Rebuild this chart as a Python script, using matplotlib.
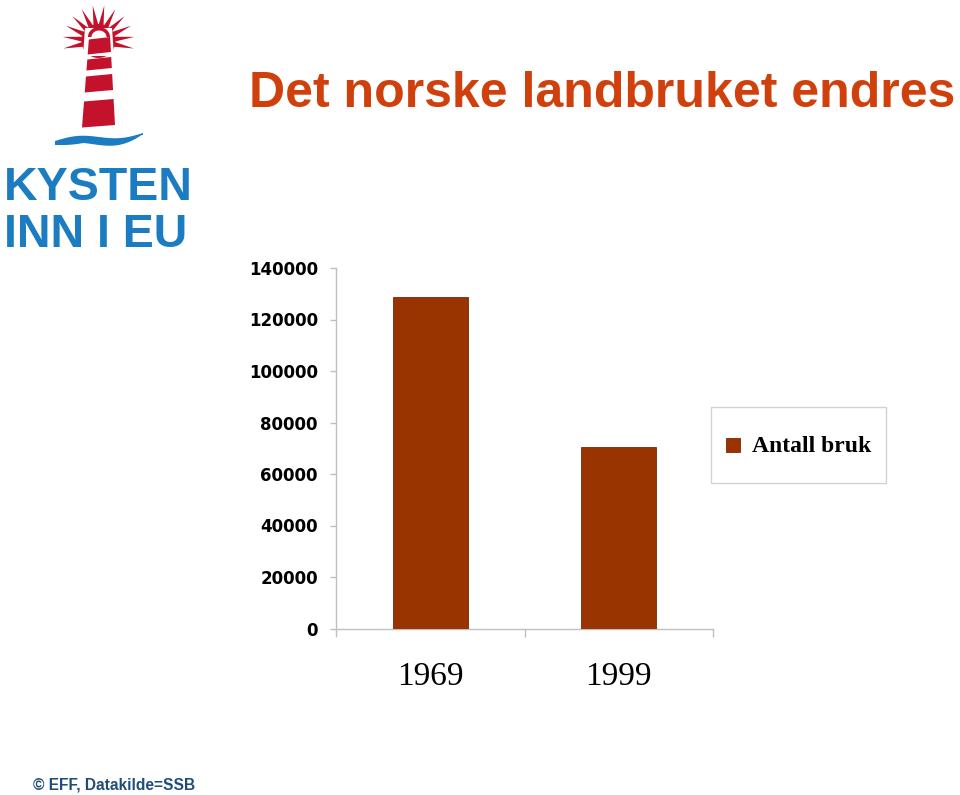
import matplotlib
matplotlib.use("Agg")
import matplotlib.pyplot as plt
from matplotlib.patches import Polygon, Rectangle
from matplotlib.legend_handler import HandlerPatch, update_from_first_child
from matplotlib.container import BarContainer
from matplotlib.ticker import FuncFormatter
import numpy as np

# ---- data ----
categories = ["1969", "1999"]
antall_bruk = [128600, 70400]
series_label = "Antall bruk"
y_ticks = [0, 20000, 40000, 60000, 80000, 100000, 120000, 140000]
title = "Det norske landbruket endres"
footer = "\u00a9 EFF, Datakilde=SSB"

BAR = "#993300"
GRAY = "#c0c0c0"
TITLE_C = "#d0400c"
LOGO_BLUE = "#1c7cc2"
LOGO_RED = "#c4122c"
FOOT_C = "#1f4d7a"

W, H = 960, 795
fig = plt.figure(figsize=(W / 100, H / 100), dpi=100)

# ---- overlay axes in pixel coordinates for logo and texts ----
ov = fig.add_axes([0, 0, 1, 1])
ov.set_xlim(0, W)
ov.set_ylim(H, 0)
ov.axis("off")

# sunburst rays
cx, cy = 98.5, 41
r_in, r_out = 16, 36
angles = np.deg2rad(np.linspace(-12, 192, 12))
for a in angles:
    da = np.deg2rad(9)
    pts = [(cx + r_in * np.cos(a - da), cy - r_in * np.sin(a - da)),
           (cx + r_out * np.cos(a), cy - r_out * np.sin(a)),
           (cx + r_in * np.cos(a + da), cy - r_in * np.sin(a + da))]
    ov.add_patch(Polygon(pts, closed=True, color=LOGO_RED, lw=0))
t = np.linspace(0, 2 * np.pi, 40)
ov.add_patch(Polygon([(cx + 17 * np.cos(tt), cy - 17 * np.sin(tt)) for tt in t], closed=True,
                     color=LOGO_RED, lw=0))
ov.add_patch(Polygon([(85, 28), (112, 28), (114, 56), (83, 56)], closed=True, color="white", lw=0))
t = np.linspace(0, np.pi, 30)
ov.add_patch(Polygon([(99 + 11 * np.cos(tt), 37 - 10 * np.sin(tt)) for tt in t], closed=True,
                     color=LOGO_RED, lw=0))
ov.add_patch(Polygon([(99 + 7.5 * np.cos(tt), 37 - 6.5 * np.sin(tt)) for tt in t], closed=True,
                     color="white", lw=0))


def tower_x(y):
    f = (y - 36) / (126 - 36)
    return 89 + (82 - 89) * f, 110 + (115 - 110) * f


for (y0, y1) in [(38, 53), (58, 69), (75, 91), (100, 126)]:
    l0, r0 = tower_x(y0)
    l1, r1 = tower_x(y1)
    ov.add_patch(Polygon([(l0, y0 + 1.5), (r0, y0 - 1), (r1, y1 - 1), (l1, y1 + 1.5)],
                         closed=True, color=LOGO_RED, lw=0))

xs = np.linspace(55, 143, 50)
u = (xs - 55) / 88
top = 141 - 8 * u - 3 * np.sin(u * np.pi * 2)
bot = 145 - 10 * u + 2 * np.sin(u * np.pi * 2) * (1 - u)
bot = np.maximum(bot, top + 8 * np.sin(u * np.pi) ** 0.6)
ov.add_patch(Polygon(list(zip(xs, top)) + list(zip(xs[::-1], bot[::-1])), closed=True,
                     color=LOGO_BLUE, lw=0))

ov.text(4, 200, "KYSTEN", fontsize=33.5, fontweight="bold", color=LOGO_BLUE,
        family="Liberation Sans", ha="left", va="baseline")
ov.text(4, 247, "INN I EU", fontsize=33.5, fontweight="bold", color=LOGO_BLUE,
        family="Liberation Sans", ha="left", va="baseline")

ov.text(955, 107, title, fontsize=36, fontweight="bold", color=TITLE_C,
        family="Liberation Sans", ha="right", va="baseline")
ov.text(33, 789, footer, fontsize=11.2, fontweight="bold", color=FOOT_C,
        family="Liberation Sans", ha="left", va="baseline")

# ---- chart axes ----
left, right, bottom, top_ = 336, 713, 628.5, 268
ax = fig.add_axes([left / W, 1 - bottom / H, (right - left) / W, (bottom - top_) / H])
ax.patch.set_alpha(0)
x = np.arange(len(categories))
ax.bar(x, antall_bruk, width=0.4, color=BAR, edgecolor="#7a2900", linewidth=0.6,
       label=series_label, zorder=3)
ax.set_xlim(-0.5, len(categories) - 0.5)
ax.set_ylim(0, 140000)
ax.set_yticks(y_ticks)
ax.yaxis.set_major_formatter(FuncFormatter(lambda v, p: f"{int(v)}"))
ax.set_xticks(x)
ax.set_xticklabels(categories, family="Liberation Serif", fontsize=24)
ax.set_xticks(np.arange(-0.5, len(categories)), minor=True)
ax.tick_params(axis="x", which="major", length=0, pad=24)
ax.tick_params(axis="x", which="minor", length=6, color=GRAY, width=1)
ax.tick_params(axis="y", length=4.5, color=GRAY, width=1, pad=8.5)
for lab in ax.get_yticklabels():
    lab.set_fontweight("bold")
    lab.set_fontsize(12)
    lab.set_family("DejaVu Sans")
for s in ["top", "right"]:
    ax.spines[s].set_visible(False)
for s in ["left", "bottom"]:
    ax.spines[s].set_color(GRAY)
    ax.spines[s].set_linewidth(1)


def square_patch(legend, orig_handle, xdescent, ydescent, width, height, fontsize):
    s = 0.6 * fontsize
    return Rectangle((-xdescent + (width - s) / 2, -ydescent + (height - s) / 2), s, s)


leg = ax.legend(loc="center left", bbox_to_anchor=(711 / W, 1 - 445 / H),
                bbox_transform=fig.transFigure, frameon=True, fancybox=False,
                prop={"family": "Liberation Serif", "weight": "bold", "size": 17},
                borderpad=0.6, handlelength=0.65, handleheight=2.7, handletextpad=0.5,
                borderaxespad=0,
                handler_map={BarContainer: HandlerPatch(patch_func=square_patch,
                                                        update_func=update_from_first_child)})
leg.get_frame().set_edgecolor("#c8c8c8")
leg.get_frame().set_linewidth(1)

fig.savefig("out.png", dpi=100)
